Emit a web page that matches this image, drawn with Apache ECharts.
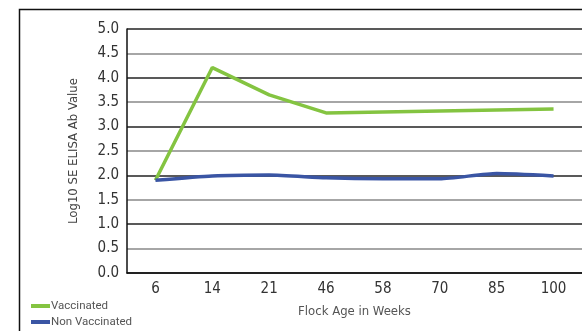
<!DOCTYPE html>
<html>
<head>
<meta charset="utf-8">
<script src="https://cdn.jsdelivr.net/npm/echarts@6/dist/echarts.min.js"></script>
<style>html,body{margin:0;padding:0;background:#fff}#c{width:582px;height:331px}</style>
</head>
<body>
<div id="c"></div>
<script>
var categories = ['6', '14', '21', '46', '58', '70', '85', '100'];
var vaccinated = [1.90, 4.21, 3.65, 3.28, 3.30, 3.32, 3.34, 3.36];
var nonVaccinated = [1.90, 1.99, 2.01, 1.95, 1.93, 1.93, 2.04, 1.99];
var yTicks = { min: 0, max: 5, interval: 0.5 };

var condensed = "'Liberation Sans Narrow', 'DejaVu Sans Condensed', Roboto, sans-serif";
var chart = echarts.init(document.getElementById('c'), null, { renderer: 'canvas' });
chart.setOption({
  animation: false,
  backgroundColor: '#fff',
  graphic: [{
    type: 'rect', left: 17, top: 7, z: -1,
    shape: { width: 620, height: 400 },
    style: { fill: 'none', stroke: '#111', lineWidth: 1.5 }
  }],
  grid: { left: 127, top: 29, width: 459, height: 244 },
  legend: {
    orient: 'vertical', left: 31, top: 300, height: 40, padding: 0, itemGap: 4,
    itemWidth: 19, itemHeight: 4, icon: 'rect',
    textStyle: { fontFamily: 'Roboto, sans-serif', fontSize: 11.5, color: '#555', padding: [0, 0, 0, -4] },
    data: ['Vaccinated', 'Non Vaccinated']
  },
  xAxis: {
    type: 'category', data: categories, boundaryGap: true,
    name: 'Flock Age in Weeks', nameLocation: 'middle', nameGap: 32,
    nameTextStyle: { fontFamily: condensed, fontSize: 13, color: '#555' },
    axisLine: { lineStyle: { color: '#111', width: 1.5 } },
    axisTick: { inside: true, length: 6, lineStyle: { color: '#111', width: 1.5 } },
    axisLabel: { fontFamily: condensed, fontSize: 15, color: '#333', margin: 9 }
  },
  yAxis: {
    type: 'value', min: yTicks.min, max: yTicks.max, interval: yTicks.interval,
    name: 'Log10 SE ELISA Ab Value', nameLocation: 'middle', nameGap: 47, nameRotate: 90,
    nameTextStyle: { fontFamily: condensed, fontSize: 13, color: '#444' },
    axisLine: { show: true, lineStyle: { color: '#111', width: 1.5 } },
    axisTick: { show: false },
    axisLabel: { fontFamily: condensed, fontSize: 15, color: '#333', margin: 8,
      formatter: function (v) { return v.toFixed(1); } },
    splitLine: { lineStyle: { color: ['#222', '#888'], width: 1.6 } }
  },
  series: [
    { name: 'Vaccinated', type: 'line', data: vaccinated, symbol: 'none',
      lineStyle: { color: '#84c441', width: 3.5 }, itemStyle: { color: '#84c441' } },
    { name: 'Non Vaccinated', type: 'line', data: nonVaccinated, symbol: 'none', smooth: 0.2,
      lineStyle: { color: '#3a55a4', width: 3.5 }, itemStyle: { color: '#3a55a4' } }
  ]
});
</script>
</body>
</html>
